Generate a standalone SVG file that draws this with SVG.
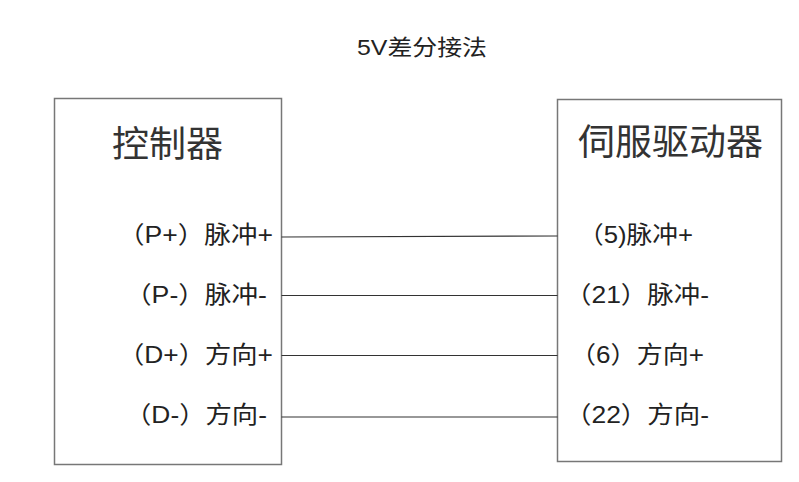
<svg xmlns="http://www.w3.org/2000/svg" width="799" height="482" viewBox="0 0 799 482">
<style>
text{font-family:"Liberation Sans","Noto Sans CJK SC",sans-serif;fill:#222}
.box{fill:#fff;stroke:#777;stroke-width:1.5}
.hd{font-size:36px;fill:#333}
.lb{font-size:24px}
.ttl{font-size:22px}
.wire{stroke:#333;stroke-width:1.2;fill:none}
</style>
<rect width="799" height="482" fill="#fff"/>
<text class="ttl" x="357" y="55" textLength="130" lengthAdjust="spacingAndGlyphs">5V差分接法</text>
<g id="controller">
<rect class="box" x="54.5" y="98.5" width="227" height="366"/>
<text class="hd" x="112" y="157" textLength="111" lengthAdjust="spacingAndGlyphs">控制器</text>
<text class="lb" x="118" y="243" textLength="155" lengthAdjust="spacingAndGlyphs">（P+）脉冲+</text>
<text class="lb" x="125" y="303" textLength="142" lengthAdjust="spacingAndGlyphs">（P-）脉冲-</text>
<text class="lb" x="118" y="363" textLength="155" lengthAdjust="spacingAndGlyphs">（D+）方向+</text>
<text class="lb" x="125" y="423" textLength="142" lengthAdjust="spacingAndGlyphs">（D-）方向-</text>
</g>
<g id="driver">
<rect class="box" x="557.5" y="99.5" width="224" height="362"/>
<text class="hd" x="578" y="155" textLength="185" lengthAdjust="spacingAndGlyphs">伺服驱动器</text>
<text class="lb" x="578" y="243" textLength="115" lengthAdjust="spacingAndGlyphs">（5)脉冲+</text>
<text class="lb" x="565" y="303" textLength="144" lengthAdjust="spacingAndGlyphs">（21）脉冲-</text>
<text class="lb" x="570" y="363" textLength="134" lengthAdjust="spacingAndGlyphs">（6）方向+</text>
<text class="lb" x="565" y="423" textLength="144" lengthAdjust="spacingAndGlyphs">（22）方向-</text>
</g>
<g id="connectors">
<line class="wire" x1="281.5" y1="237" x2="557.5" y2="236"/>
<line class="wire" x1="281.5" y1="295.5" x2="557.5" y2="295.5"/>
<line class="wire" x1="281.5" y1="355.5" x2="557.5" y2="355.5"/>
<line class="wire" x1="281.5" y1="417" x2="557.5" y2="417"/>
</g>
</svg>
